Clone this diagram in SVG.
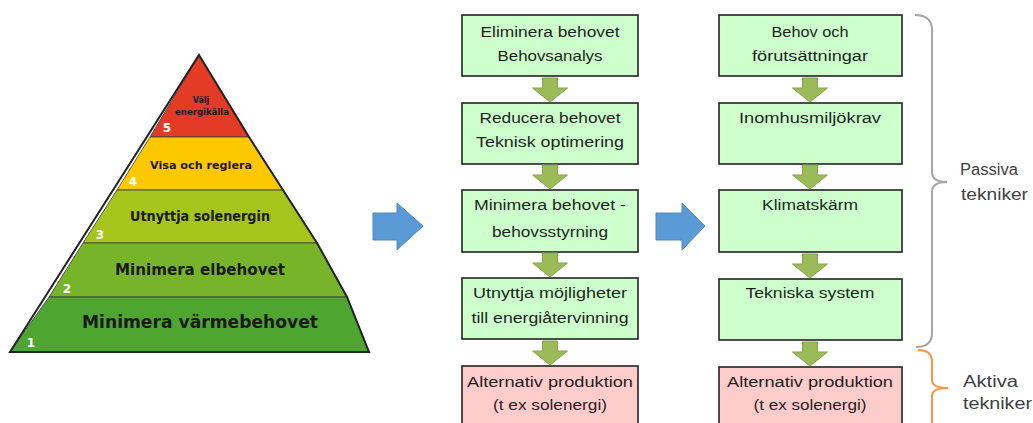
<svg xmlns="http://www.w3.org/2000/svg" xmlns:xlink="http://www.w3.org/1999/xlink" width="1033" height="423" viewBox="0 0 1033 423">
<style>
.pt{font-family:"DejaVu Sans","Liberation Sans",sans-serif;font-weight:bold;fill:#1a1a1a;text-anchor:middle}
.num{font-family:"DejaVu Sans","Liberation Sans",sans-serif;font-weight:bold;fill:#ffffff;font-size:12px;text-anchor:middle}
.band{stroke:#3a3a3a;stroke-width:0.8}
.box{stroke:#222222;stroke-width:1.6}
.g{fill:#ccffcc}
.r{fill:#ffcccc}
.bt{font-family:"Liberation Sans",Arial,sans-serif;font-size:15.5px;fill:#1f1f1f;text-anchor:middle}
.side{font-family:"Liberation Sans",Arial,sans-serif;font-size:16px;fill:#404040}
.ga{fill:#9bbb59;stroke:#85a548;stroke-width:1}
.ba{fill:#5b9bd5;stroke:#4e89c2;stroke-width:1}
</style>
<defs>
<path id="garrow" d="M-7.5,0 H7.5 V10 H17.5 L0,24 L-17.5,10 H-7.5 Z"/>
</defs>
<rect width="1033" height="423" fill="#ffffff"/>

<g id="pyramid">
<polygon class="band" fill="#e33b26" points="199,55 249,137 150,137"/>
<polygon class="band" fill="#fdc800" points="150,137 249,137 283,190 117,190"/>
<polygon class="band" fill="#a6c41c" points="117,190 283,190 317,243 83,243"/>
<polygon class="band" fill="#78b42a" points="83,243 317,243 347,297 49,297"/>
<polygon class="band" fill="#4ea630" points="49,297 347,297 369,352 10,352"/>
<polygon fill="none" stroke="#222222" stroke-width="2" stroke-linejoin="miter" points="199,55 249,137 283,190 317,243 347,297 369,352 10,352"/>
<text class="pt" x="201" y="103" font-size="8">Välj</text>
<text class="pt" x="202" y="115" font-size="8" textLength="54" lengthAdjust="spacingAndGlyphs">energikälla</text>
<text class="pt" x="201" y="169" font-size="11" textLength="102" lengthAdjust="spacingAndGlyphs">Visa och reglera</text>
<text class="pt" x="200" y="221" font-size="14" textLength="140" lengthAdjust="spacingAndGlyphs">Utnyttja solenergin</text>
<text class="pt" x="200" y="275" font-size="15" textLength="170" lengthAdjust="spacingAndGlyphs">Minimera elbehovet</text>
<text class="pt" x="200" y="328" font-size="17" textLength="236" lengthAdjust="spacingAndGlyphs">Minimera värmebehovet</text>
<text class="num" x="167" y="132">5</text>
<text class="num" x="133" y="186">4</text>
<text class="num" x="100" y="239">3</text>
<text class="num" x="67" y="293">2</text>
<text class="num" x="31" y="347">1</text>
</g>

<g id="c1-n1"><rect class="box g" x="462" y="15" width="176" height="61"/>
<text class="bt" x="550" y="37" textLength="139" lengthAdjust="spacingAndGlyphs">Eliminera behovet</text>
<text class="bt" x="550" y="61" textLength="105" lengthAdjust="spacingAndGlyphs">Behovsanalys</text></g>
<g id="c1-n2"><rect class="box g" x="462" y="103" width="176" height="61"/>
<text class="bt" x="550" y="123" textLength="141" lengthAdjust="spacingAndGlyphs">Reducera behovet</text>
<text class="bt" x="550" y="147" textLength="148" lengthAdjust="spacingAndGlyphs">Teknisk optimering</text></g>
<g id="c1-n3"><rect class="box g" x="462" y="190" width="176" height="62"/>
<text class="bt" x="550" y="210" textLength="152" lengthAdjust="spacingAndGlyphs">Minimera behovet -</text>
<text class="bt" x="550" y="237" textLength="116" lengthAdjust="spacingAndGlyphs">behovsstyrning</text></g>
<g id="c1-n4"><rect class="box g" x="462" y="278" width="176" height="61"/>
<text class="bt" x="550" y="298" textLength="154" lengthAdjust="spacingAndGlyphs">Utnyttja möjligheter</text>
<text class="bt" x="550" y="323" textLength="157" lengthAdjust="spacingAndGlyphs">till energiåtervinning</text></g>
<g id="c1-n5"><rect class="box r" x="462" y="366" width="176" height="70"/>
<text class="bt" x="550" y="387" textLength="166" lengthAdjust="spacingAndGlyphs">Alternativ produktion</text>
<text class="bt" x="550" y="410" textLength="114" lengthAdjust="spacingAndGlyphs">(t ex solenergi)</text></g>

<g id="c2-n1"><rect class="box g" x="719" y="15" width="183" height="61"/>
<text class="bt" x="810" y="37" textLength="77" lengthAdjust="spacingAndGlyphs">Behov och</text>
<text class="bt" x="810" y="61" textLength="116" lengthAdjust="spacingAndGlyphs">förutsättningar</text></g>
<g id="c2-n2"><rect class="box g" x="719" y="103" width="183" height="61"/>
<text class="bt" x="810" y="123" textLength="142" lengthAdjust="spacingAndGlyphs">Inomhusmiljökrav</text></g>
<g id="c2-n3"><rect class="box g" x="719" y="190" width="183" height="62"/>
<text class="bt" x="810" y="210" textLength="96" lengthAdjust="spacingAndGlyphs">Klimatskärm</text></g>
<g id="c2-n4"><rect class="box g" x="719" y="279" width="183" height="61"/>
<text class="bt" x="810" y="298" textLength="129" lengthAdjust="spacingAndGlyphs">Tekniska system</text></g>
<g id="c2-n5"><rect class="box r" x="719" y="367" width="183" height="70"/>
<text class="bt" x="810" y="387" textLength="166" lengthAdjust="spacingAndGlyphs">Alternativ produktion</text>
<text class="bt" x="810" y="410" textLength="113" lengthAdjust="spacingAndGlyphs">(t ex solenergi)</text></g>

<g id="connectors">
<use class="ga" xlink:href="#garrow" href="#garrow" x="550" y="78"/>
<use class="ga" xlink:href="#garrow" href="#garrow" x="550" y="165"/>
<use class="ga" xlink:href="#garrow" href="#garrow" x="550" y="253"/>
<use class="ga" xlink:href="#garrow" href="#garrow" x="550" y="341"/>
<use class="ga" xlink:href="#garrow" href="#garrow" x="810" y="78"/>
<use class="ga" xlink:href="#garrow" href="#garrow" x="810" y="165"/>
<use class="ga" xlink:href="#garrow" href="#garrow" x="810" y="254"/>
<use class="ga" xlink:href="#garrow" href="#garrow" x="810" y="342"/>
<polygon class="ba" points="373,213 397,213 397,203 423,226 397,250 397,240 373,240"/>
<polygon class="ba" points="656,213 682,213 682,203 705,226 682,250 682,240 656,240"/>
</g>

<g id="brace-passive">
<path d="M915,15 Q932,15 932,30 L932,172 Q932,182 947,182 Q932,182 932,192 L932,333 Q932,347 916,347" fill="none" stroke="#a6a6a6" stroke-width="2"/>
<text class="side" x="960" y="175" textLength="58" lengthAdjust="spacingAndGlyphs">Passiva</text>
<text class="side" x="961" y="200" textLength="67" lengthAdjust="spacingAndGlyphs">tekniker</text>
</g>
<g id="brace-active">
<path d="M918,350 Q932,350 932,362 L932,380 Q932,388 948,388 Q932,388 932,396 L932,424" fill="none" stroke="#f79646" stroke-width="2"/>
<text class="side" x="963" y="387" textLength="55" lengthAdjust="spacingAndGlyphs">Aktiva</text>
<text class="side" x="963" y="409" textLength="69" lengthAdjust="spacingAndGlyphs">tekniker</text>
</g>
</svg>
